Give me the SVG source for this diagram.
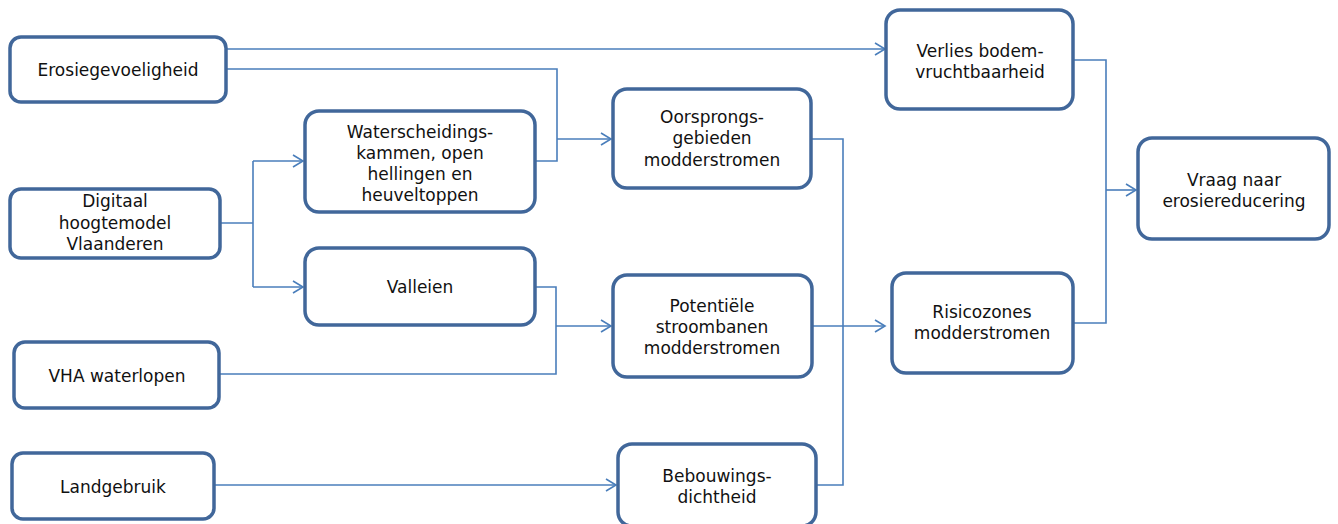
<svg xmlns="http://www.w3.org/2000/svg" width="1338" height="524" viewBox="0 0 1338 524">
<style>
.box{fill:#fff;stroke:#41679A;stroke-width:3.5}
.lbl{font-family:"DejaVu Sans",Verdana,sans-serif;font-size:17px;fill:#111;text-anchor:middle}
.con{fill:none;stroke:#4A7EBB;stroke-width:1.6}
</style>
<defs>
<marker id="arr" markerUnits="userSpaceOnUse" markerWidth="14" markerHeight="16" refX="11" refY="7" orient="auto">
<path d="M1,1 L11,7 L1,13" fill="none" stroke="#4A7EBB" stroke-width="1.6"/>
</marker>
</defs>
<g id="connectors">
<path class="con" d="M226,49 H885" marker-end="url(#arr)"/>
<path class="con" d="M226,69 H557 V161 H535"/>
<path class="con" d="M557,139 H611" marker-end="url(#arr)"/>
<path class="con" d="M220,223 H253"/>
<path class="con" d="M253,161 V287"/>
<path class="con" d="M253,161 H303" marker-end="url(#arr)"/>
<path class="con" d="M253,287 H303" marker-end="url(#arr)"/>
<path class="con" d="M535,287 H556 V374 H219"/>
<path class="con" d="M556,326 H611" marker-end="url(#arr)"/>
<path class="con" d="M214,485 H616" marker-end="url(#arr)"/>
<path class="con" d="M811,139 H843 V485 H816"/>
<path class="con" d="M812,326 H885" marker-end="url(#arr)"/>
<path class="con" d="M1073,60 H1106 V323 H1073"/>
<path class="con" d="M1106,190 H1136" marker-end="url(#arr)"/>
</g>
<g id="erosiegevoeligheid">
<rect class="box" x="10" y="37" width="216" height="65" rx="11"/>
<text class="lbl" x="118" y="76">Erosiegevoeligheid</text>
</g>
<g id="digitaal">
<rect class="box" x="10" y="189" width="210" height="69" rx="11"/>
<text class="lbl" x="115" y="207">Digitaal</text>
<text class="lbl" x="115" y="229">hoogtemodel</text>
<text class="lbl" x="115" y="250">Vlaanderen</text>
</g>
<g id="vha">
<rect class="box" x="14" y="342" width="205" height="66" rx="11"/>
<text class="lbl" x="117" y="382">VHA waterlopen</text>
</g>
<g id="landgebruik">
<rect class="box" x="12" y="453" width="202" height="66" rx="11"/>
<text class="lbl" x="113" y="493">Landgebruik</text>
</g>
<g id="waterscheidings">
<rect class="box" x="305" y="111" width="230" height="101" rx="14"/>
<text class="lbl" x="420" y="138">Waterscheidings-</text>
<text class="lbl" x="420" y="159">kammen, open</text>
<text class="lbl" x="420" y="180">hellingen en</text>
<text class="lbl" x="420" y="201">heuveltoppen</text>
</g>
<g id="valleien">
<rect class="box" x="305" y="248" width="230" height="77" rx="14"/>
<text class="lbl" x="420" y="293">Valleien</text>
</g>
<g id="oorsprongs">
<rect class="box" x="613" y="89" width="198" height="99" rx="14"/>
<text class="lbl" x="712" y="123">Oorsprongs-</text>
<text class="lbl" x="712" y="144">gebieden</text>
<text class="lbl" x="712" y="166">modderstromen</text>
</g>
<g id="potentiele">
<rect class="box" x="613" y="275" width="199" height="102" rx="14"/>
<text class="lbl" x="712" y="312">Potentiële</text>
<text class="lbl" x="712" y="333">stroombanen</text>
<text class="lbl" x="712" y="354">modderstromen</text>
</g>
<g id="bebouwings">
<rect class="box" x="618" y="444" width="198" height="82" rx="14"/>
<text class="lbl" x="717" y="482">Bebouwings-</text>
<text class="lbl" x="717" y="503">dichtheid</text>
</g>
<g id="verlies">
<rect class="box" x="886" y="10" width="187" height="99" rx="14"/>
<text class="lbl" x="980" y="57">Verlies bodem-</text>
<text class="lbl" x="980" y="78">vruchtbaarheid</text>
</g>
<g id="risicozones">
<rect class="box" x="892" y="273" width="181" height="100" rx="14"/>
<text class="lbl" x="982" y="318">Risicozones</text>
<text class="lbl" x="982" y="339">modderstromen</text>
</g>
<g id="vraag">
<rect class="box" x="1138" y="138" width="191" height="101" rx="14"/>
<text class="lbl" x="1234" y="186">Vraag naar</text>
<text class="lbl" x="1234" y="207">erosiereducering</text>
</g>
</svg>
